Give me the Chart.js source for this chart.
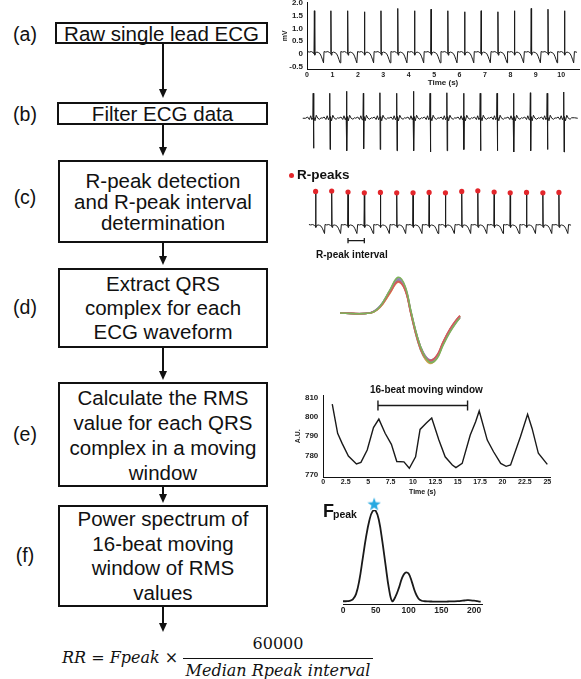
<!DOCTYPE html>
<html><head><meta charset="utf-8"><title>ECG-derived respiratory rate pipeline</title>
<script src="https://cdn.jsdelivr.net/npm/chart.js@4.4.1/dist/chart.umd.min.js"></script>
<style>
html,body{margin:0;padding:0;background:#fff;}
body{width:581px;height:679px;position:relative;overflow:hidden;font-family:"Liberation Sans",Arial,sans-serif;color:#111;}
.box{position:absolute;border:2px solid #111;box-sizing:border-box;display:flex;flex-direction:column;justify-content:center;align-items:center;text-align:center;font-size:20.5px;white-space:nowrap;}
.lbl{position:absolute;font-size:19.5px;width:50px;left:0;text-align:center;line-height:19px;transform:translateY(-50%);}
.arrow{position:absolute;left:162px;width:2px;background:#111;}
.head{position:absolute;left:159px;width:0;height:0;border-left:4px solid transparent;border-right:4px solid transparent;border-top:9px solid #111;}
canvas{position:absolute;}
.t{position:absolute;font-weight:bold;white-space:nowrap;line-height:1;}
.m{position:absolute;white-space:nowrap;font-family:"DejaVu Serif",serif;line-height:1;}
</style></head><body>

<div class="lbl" style="top:34px">(a)</div>
<div class="lbl" style="top:114px">(b)</div>
<div class="lbl" style="top:197px">(c)</div>
<div class="lbl" style="top:307px">(d)</div>
<div class="lbl" style="top:434px">(e)</div>
<div class="lbl" style="top:555px">(f)</div>

<div class="box" style="left:55px;top:22px;width:213px;height:22px;line-height:19px">Raw single lead ECG</div>
<div class="box" style="left:57px;top:102px;width:211px;height:23px;line-height:19px">Filter ECG data</div>
<div class="box" style="left:58px;top:160px;width:210px;height:83px;line-height:21px">R-peak detection<br>and R-peak interval<br>determination</div>
<div class="box" style="left:58px;top:268px;width:210px;height:80px;line-height:24px">Extract QRS<br>complex for each<br>ECG waveform</div>
<div class="box" style="left:58px;top:382px;width:210px;height:105px;line-height:25px">Calculate the RMS<br>value for each QRS<br>complex in a moving<br>window</div>
<div class="box" style="left:58px;top:505px;width:210px;height:102px;line-height:24.5px">Power spectrum of<br>16-beat moving<br>window of RMS<br>values</div>

<div class="arrow" style="top:44px;height:46px"></div><div class="head" style="top:89px"></div>
<div class="arrow" style="top:125px;height:22px"></div><div class="head" style="top:147px"></div>
<div class="arrow" style="top:243px;height:13px"></div><div class="head" style="top:256px"></div>
<div class="arrow" style="top:348px;height:23px"></div><div class="head" style="top:371px"></div>
<div class="arrow" style="top:487px;height:7px"></div><div class="head" style="top:494px"></div>
<div class="arrow" style="top:607px;height:16px"></div><div class="head" style="top:623px"></div>

<div class="m" style="left:62px;top:650px;font-size:16px;font-style:italic">RR = Fpeak ×</div>
<div class="m" style="left:183px;width:190px;top:636px;font-size:16px;text-align:center">60000</div>
<div style="position:absolute;left:183px;top:658px;width:190px;height:1.3px;background:#111"></div>
<div class="m" style="left:173px;width:210px;top:663px;font-size:16px;font-style:italic;text-align:center">Median Rpeak interval</div>

<canvas id="cA" width="300" height="96" style="left:280px;top:-6px"></canvas>
<canvas id="cB" width="277" height="68" style="left:302px;top:88px"></canvas>
<canvas id="cC" width="278" height="72" style="left:300px;top:178px"></canvas>
<canvas id="cD" width="135" height="100" style="left:335px;top:270px"></canvas>
<canvas id="cE" width="265" height="115" style="left:290px;top:385px"></canvas>
<canvas id="cF" width="155" height="128" style="left:335px;top:490px"></canvas>

<div style="position:absolute;left:289px;top:173px;width:5px;height:5px;border-radius:50%;background:#e3262b"></div>
<div class="t" style="left:297px;top:168px;font-size:13.5px">R-peaks</div>
<div class="t" style="left:316px;top:250px;font-size:10px">R-peak interval</div>
<div class="t" style="left:370px;top:385px;font-size:10px">16-beat moving window</div>
<div class="t" style="left:409px;top:488px;font-size:7px">Time (s)</div>
<div class="t" style="left:323px;top:502px;font-size:18px">F</div>
<div class="t" style="left:333px;top:509px;font-size:10.5px">peak</div>

<script>
// ---------------- DATA ----------------
// (a) raw single-lead ECG
const beatTimes = [0.29,0.94,1.60,2.26,2.91,3.57,4.23,4.88,5.54,6.20,6.85,7.51,8.16,8.82,9.48,10.13];
const rawPeakMv = [1.69,1.69,1.69,1.65,1.69,1.78,1.69,1.75,1.69,1.65,1.69,1.65,1.69,1.78,1.75,1.69];
const rawBeatOffsets = [-0.27,-0.20,-0.12,-0.05,-0.015,0,0.015,0.04,0.10,0.16,0.22,0.27,0.32,0.36];
const rawBeatShape   = [0.10,0.08,0.10,0.06,0.02,0,-0.04,0.05,0.08,0.06,0.02,-0.08,-0.22,-0.34];
const RAW_PEAK_SLOT = 5;
const rawTail = [[10.52,0.10],[10.62,0.07]];
const rawXTicks = [0,1,2,3,4,5,6,7,8,9,10];
const rawYTicks = [-0.5,0,0.5,1.0,1.5,2.0];

// (b) filtered ECG
const filtUp   = [1.00,1.00,1.08,1.00,1.02,1.00,1.08,1.00,1.02,1.00,1.00,1.00,1.00,1.02,1.00,1.05];
const filtDown = [-1.20,-1.25,-1.30,-1.22,-1.25,-1.30,-1.30,-1.35,-1.30,-1.25,-1.30,-1.30,-1.35,-1.30,-1.25,-1.35];
const filtBeatOffsets = [-0.30,-0.22,-0.15,-0.10,-0.05,-0.015,0,0.012,0.03,0.07,0.12,0.18,0.25,0.31];
const filtBeatShape   = [0,0.05,-0.05,0.10,-0.06,0.03,0,0,0.07,-0.10,0.12,0.00,-0.04,0.02];
const FILT_UP_SLOT = 6, FILT_DOWN_SLOT = 7;
const filtHead = [[-0.12,0]];
const filtTail = [[10.55,0.02],[10.68,0]];

// (c) R-peak detection
const cPeakMv = [1.72,1.74,1.69,1.65,1.67,1.65,1.65,1.67,1.65,1.72,1.75,1.69,1.65,1.67,1.65,1.67];
const intervalBeat = [2,3];
const intervalLevel = -0.69;

// (d) QRS complexes (sample position, amplitude)
const qrsX = [0,30,40,50,58,65,71,77,83,90,97,103,110,117,120];
const qrsBeats = [
  [0,0,0.20,0.70,1.08,0.82,0.05,-0.68,-1.20,-1.50,-1.38,-0.98,-0.58,-0.26,-0.15],
  [0,0,0.18,0.62,0.95,0.70,-0.04,-0.76,-1.25,-1.44,-1.28,-0.88,-0.48,-0.18,-0.08],
  [0,0.01,0.21,0.68,1.04,0.78,0.02,-0.70,-1.18,-1.42,-1.30,-0.94,-0.55,-0.24,-0.13],
  [0,0,0.17,0.60,0.93,0.72,-0.02,-0.75,-1.27,-1.53,-1.36,-0.95,-0.53,-0.22,-0.10],
  [0,0,0.19,0.66,1.00,0.76,0.01,-0.72,-1.22,-1.46,-1.32,-0.91,-0.50,-0.20,-0.10],
  [0,0,0.20,0.67,1.02,0.74,-0.03,-0.78,-1.28,-1.50,-1.34,-0.93,-0.52,-0.23,-0.12],
  [0,0,0.18,0.63,0.97,0.73,0.00,-0.71,-1.20,-1.43,-1.29,-0.90,-0.50,-0.19,-0.09],
  [0,0,0.20,0.69,1.06,0.80,0.04,-0.69,-1.19,-1.45,-1.33,-0.96,-0.56,-0.25,-0.14]
];

// (e) RMS of QRS complexes
const rmsTime = [1.0,1.6,2.1,2.8,3.7,4.2,4.9,5.6,6.2,6.9,7.6,8.2,9.0,9.6,10.3,10.8,11.5,12.1,12.9,13.6,14.4,14.8,15.5,16.4,17.0,17.4,18.3,19.0,19.8,20.4,20.9,22.0,22.8,23.3,24.0,25.0];
const rmsValue = [806.5,791.5,786.3,779.8,775.7,776.5,782.9,794.4,798.8,791.5,785.8,777,776.8,773.5,779.4,793.5,796.8,799.4,788,779.4,775.2,773.8,776,790.6,797.4,803,788,782,776,774.5,775.2,789.7,801.3,794,781.2,775.5];
const windowStart = 6.1, windowEnd = 16.1, windowLevel = 805.8, windowTick = 2.6;
const rmsXTicks = [0,2.5,5,7.5,10,12.5,15,17.5,20,22.5,25];
const rmsYTicks = [770,780,790,800,810];

// (f) power spectrum
const specFreq = [0,5,10,15,20,25,30,35,40,45,50,55,60,65,70,75,80,85,90,95,100,105,110,115,120,125,130,135,140,145,150,155,160,165,170,175,180,185,190,195,200,205,210];
const specPower = [0.01,0.01,0.015,0.03,0.09,0.24,0.47,0.70,0.88,0.985,0.99,0.88,0.66,0.40,0.15,0.01,0.06,0.15,0.26,0.32,0.31,0.22,0.11,0.04,0.015,0.01,0.008,0.007,0.006,0.006,0.006,0.006,0.007,0.008,0.009,0.011,0.014,0.018,0.021,0.02,0.016,0.01,0.005];
const fPeakFreq = 47.5, fPeakMarkLevel = 1.068;
const specXTicks = [0,50,100,150,200];

// ---------------- BUILD ----------------
Chart.defaults.font.family = '"Liberation Sans", Arial, sans-serif';
Chart.defaults.color = '#222';
const INK = '#1a1a1a';
const qrsColors = ['#7db35a','#d4595c','#9a7cc4','#dfa04e','#8e8e8e','#5aa59c','#a57a52','#d48db3'];

function beatSeries(times, offs, shape, slots, head, tail){
  const pts = [];
  head.forEach(([x,y])=>pts.push({x,y}));
  times.forEach((t,i)=>offs.forEach((o,j)=>{
    const y = (j in slots) ? slots[j][i] : shape[j];
    pts.push({x:+(t+o).toFixed(3), y});
  }));
  tail.forEach(([x,y])=>pts.push({x,y}));
  return pts;
}
const rawSeries = beatSeries(beatTimes, rawBeatOffsets, rawBeatShape, {[RAW_PEAK_SLOT]:rawPeakMv}, [], rawTail);
const filtSeries = beatSeries(beatTimes, filtBeatOffsets, filtBeatShape, {[FILT_UP_SLOT]:filtUp,[FILT_DOWN_SLOT]:filtDown}, filtHead, filtTail);
const cSeries = beatSeries(beatTimes, rawBeatOffsets, rawBeatShape, {[RAW_PEAK_SLOT]:cPeakMv}, [], rawTail);

const base = {responsive:false, animation:false, devicePixelRatio:1, events:[],
  plugins:{legend:{display:false}, tooltip:{enabled:false}}};
const fixTicks = vals => s => { s.ticks = vals.map(v=>({value:v})); };
const noGrid = {display:false, drawTicks:false};
const border = {display:true, color:'#111', width:1};
const f8 = {size:8, weight:'bold'};
const f7 = {size:7, weight:'bold'};

// (a)
new Chart(document.getElementById('cA'), {
  type:'line',
  data:{datasets:[{data:rawSeries, borderColor:INK, borderWidth:1, pointRadius:0, tension:0}]},
  options:{...base, layout:{padding:{top:6.7, right:1, left:0, bottom:0}},
    scales:{
      x:{type:'linear', min:0, max:10.7, afterBuildTicks:fixTicks(rawXTicks), afterFit:s=>{s.height=21;},
         grid:noGrid, border, ticks:{font:f7, padding:2, maxRotation:0, autoSkip:false, callback:v=>String(v)},
         title:{display:true, text:'Time (s)', font:f8, padding:{top:0,bottom:2}}},
      y:{min:-0.58, max:2.0, afterBuildTicks:fixTicks(rawYTicks), afterFit:s=>{s.width=27;},
         grid:noGrid, border, ticks:{font:f8, padding:4, autoSkip:false, callback:v=>v===0?'0':v.toFixed(1)},
         title:{display:true, text:'mV', font:f7, padding:{top:1,bottom:0}}}
    }}
});

// (b)
new Chart(document.getElementById('cB'), {
  type:'line',
  data:{datasets:[{data:filtSeries, borderColor:INK, borderWidth:1, pointRadius:0, tension:0}]},
  options:{...base, scales:{x:{type:'linear', min:-0.15, max:10.73, display:false}, y:{min:-1.51, max:1.21, display:false}}}
});

// (c)
const ivA = beatTimes[intervalBeat[0]], ivB = beatTimes[intervalBeat[1]];
new Chart(document.getElementById('cC'), {
  type:'line',
  data:{datasets:[
    {data:cSeries, borderColor:INK, borderWidth:1, pointRadius:0, tension:0, order:2},
    {data:beatTimes.map((t,i)=>({x:t, y:cPeakMv[i]})), showLine:false, pointRadius:2.6, pointBackgroundColor:'#e3262b', pointBorderWidth:0, clip:false, order:1},
    {data:[{x:ivA,y:intervalLevel+0.13},{x:ivA,y:intervalLevel-0.13},{x:ivA,y:intervalLevel},{x:ivB,y:intervalLevel},{x:ivB,y:intervalLevel+0.13},{x:ivB,y:intervalLevel-0.13}],
     borderColor:INK, borderWidth:1.3, pointRadius:0, tension:0, clip:false}
  ]},
  options:{...base, scales:{x:{type:'linear', min:-0.18, max:10.74, display:false}, y:{min:-0.95, max:2.18, display:false}}}
});

// (d)
new Chart(document.getElementById('cD'), {
  type:'line',
  data:{datasets:qrsBeats.map((b,k)=>({data:b.map((v,i)=>({x:qrsX[i], y:v})), borderColor:qrsColors[k], borderWidth:1.6, pointRadius:0, tension:0.4}))},
  options:{...base, scales:{x:{type:'linear', min:-5, max:130, display:false}, y:{min:-1.727, max:1.303, display:false}}}
});

// (e)
new Chart(document.getElementById('cE'), {
  type:'line',
  data:{datasets:[
    {data:rmsTime.map((t,i)=>({x:t, y:rmsValue[i]})), borderColor:INK, borderWidth:1.4, pointRadius:0, tension:0},
    {data:[{x:windowStart,y:windowLevel+windowTick},{x:windowStart,y:windowLevel-windowTick},{x:windowStart,y:windowLevel},{x:windowEnd,y:windowLevel},{x:windowEnd,y:windowLevel+windowTick},{x:windowEnd,y:windowLevel-windowTick}],
     borderColor:INK, borderWidth:1.4, pointRadius:0, tension:0, clip:false}
  ]},
  options:{...base, layout:{padding:{top:10.4, right:5, left:0, bottom:0}},
    scales:{
      x:{type:'linear', min:0, max:25.3, afterBuildTicks:fixTicks(rmsXTicks), afterFit:s=>{s.height=23;},
         grid:noGrid, border, ticks:{font:f7, padding:1, maxRotation:0, autoSkip:false, callback:v=>String(v)}},
      y:{min:769, max:811, afterBuildTicks:fixTicks(rmsYTicks), afterFit:s=>{s.width=33.3;},
         grid:noGrid, border, ticks:{font:f8, padding:5, autoSkip:false},
         title:{display:true, text:'A.U.', font:f7, padding:{top:3.5,bottom:0}}}
    }}
});

// (f)
function starImage(size, color){
  const c = document.createElement('canvas'); c.width = c.height = size;
  const g = c.getContext('2d'); g.fillStyle = color; g.beginPath();
  for(let i=0;i<10;i++){ const r = i%2 ? size*0.2 : size/2; const a = -Math.PI/2 + i*Math.PI/5;
    g.lineTo(size/2 + r*Math.cos(a), size/2 + r*Math.sin(a) + size*0.06); }
  g.closePath(); g.fill(); return c;
}
new Chart(document.getElementById('cF'), {
  type:'line',
  data:{datasets:[
    {data:specFreq.map((f,i)=>({x:f, y:specPower[i]})), borderColor:INK, borderWidth:1.8, pointRadius:0, tension:0.4},
    {data:[{x:fPeakFreq, y:fPeakMarkLevel}], showLine:false, pointStyle:starImage(14,'#27a9e1'), pointRadius:7, clip:false}
  ]},
  options:{...base, layout:{padding:{top:20, right:8, left:8, bottom:0}},
    scales:{
      x:{type:'linear', min:0, max:212, afterBuildTicks:fixTicks(specXTicks), afterFit:s=>{s.height=14;},
         grid:noGrid, border, ticks:{font:{size:8.5, weight:'bold'}, padding:2, maxRotation:0, autoSkip:false}},
      y:{min:-0.02, max:1.0, display:false}
    }}
});
</script>
</body></html>
